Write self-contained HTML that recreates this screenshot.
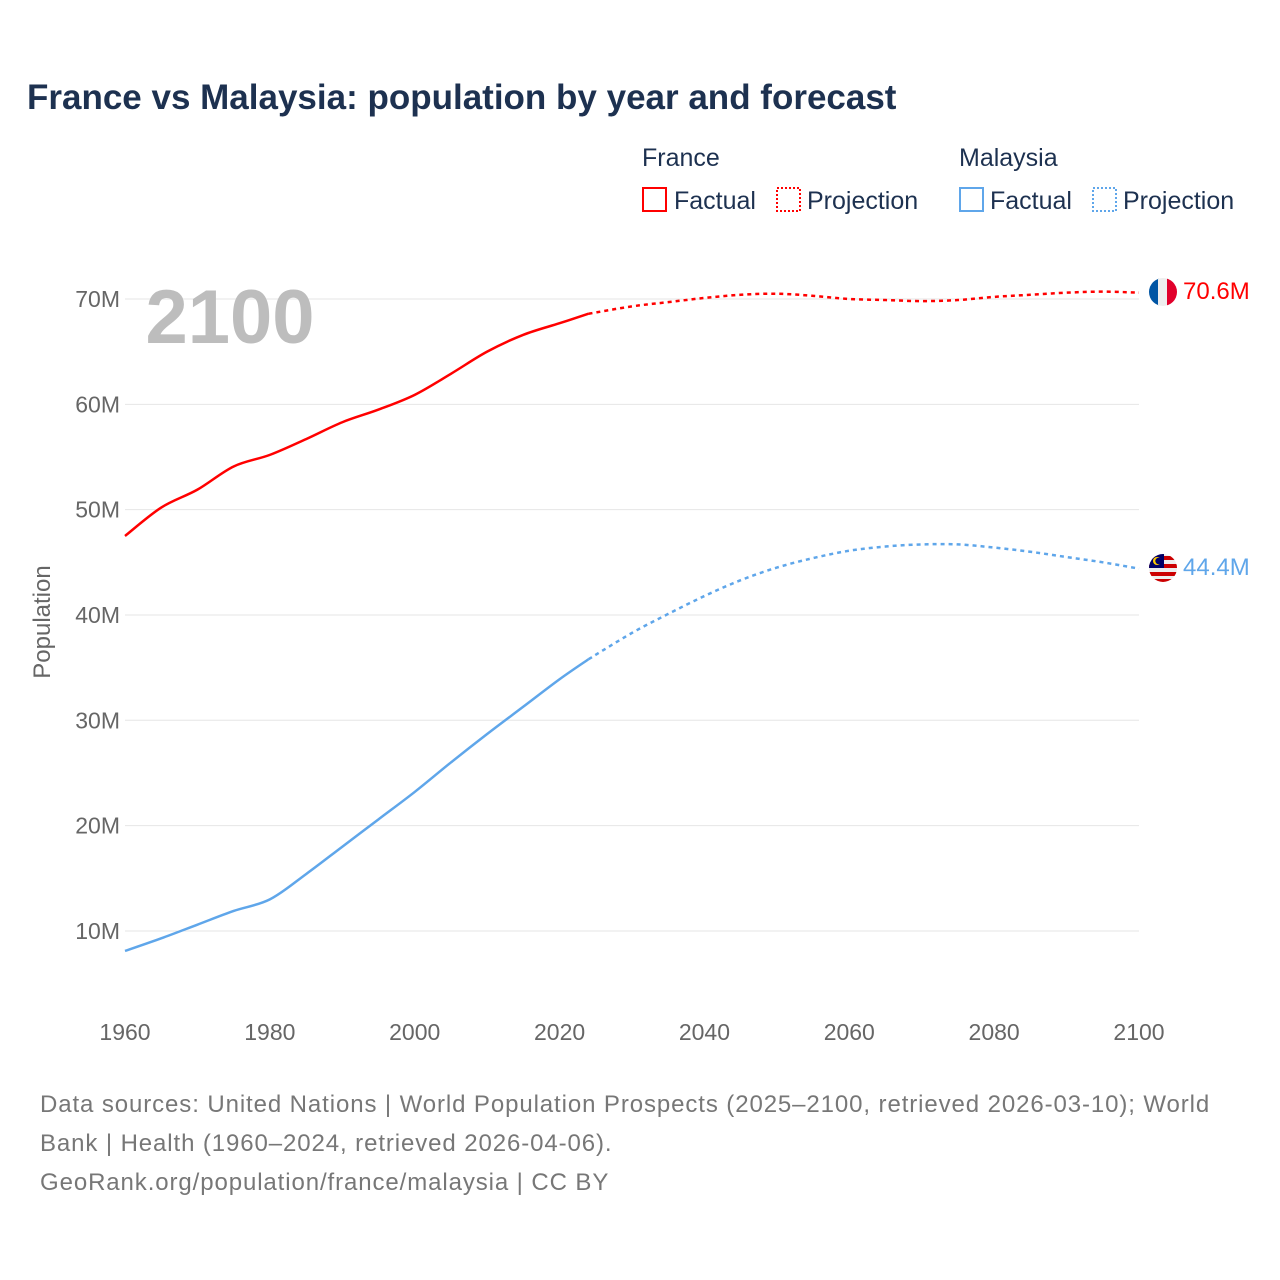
<!DOCTYPE html>
<html><head><meta charset="utf-8"><style>
body{margin:0;background:#fff;font-family:"Liberation Sans",sans-serif;}
#wrap{position:relative;width:1280px;height:1280px;overflow:hidden;}
</style></head><body>
<div id="wrap">
<svg id="svg" width="1280" height="1280" xmlns="http://www.w3.org/2000/svg" font-family="Liberation Sans, sans-serif">
<text x="27" y="109" font-size="35" font-weight="bold" fill="#1d3150">France vs Malaysia: population by year and forecast</text>
<g font-size="25" fill="#1d3150">
<text x="642" y="166">France</text>
<rect x="643" y="188" width="23" height="23" fill="none" stroke="#f00" stroke-width="2"/>
<text x="674" y="209">Factual</text>
<rect x="777" y="188" width="23" height="23" fill="none" stroke="#f00" stroke-width="2" stroke-dasharray="2,2"/>
<text x="807" y="209">Projection</text>
<text x="959" y="166">Malaysia</text>
<rect x="960" y="188" width="23" height="23" fill="none" stroke="#5fa6ea" stroke-width="2"/>
<text x="990" y="209">Factual</text>
<rect x="1093" y="188" width="23" height="23" fill="none" stroke="#5fa6ea" stroke-width="2" stroke-dasharray="2,2"/>
<text x="1123" y="209">Projection</text>
</g>
<g id="grid"></g>
<g id="xt"></g>
<text x="230" y="343" font-size="76" font-weight="bold" fill="#bdbdbd" text-anchor="middle">2100</text>
<text transform="translate(50,622) rotate(-90)" font-size="24" fill="#666" text-anchor="middle">Population</text>
<g id="series"></g>
<g>
<clipPath id="cf"><circle cx="1163" cy="292" r="14"/></clipPath>
<g clip-path="url(#cf)"><rect x="1149" y="278" width="10" height="28" fill="#0055a4"/><rect x="1158" y="278" width="10" height="28" fill="#eee"/><rect x="1167" y="278" width="10" height="28" fill="#e1002b"/></g>
</g>
<g>
<clipPath id="cm"><circle cx="1163" cy="568" r="14"/></clipPath>
<g clip-path="url(#cm)"><rect x="1149" y="554" width="28" height="28" fill="#eee"/>
<rect x="1149" y="556" width="28" height="4" fill="#cc0001"/><rect x="1149" y="564" width="28" height="4" fill="#cc0001"/><rect x="1149" y="572" width="28" height="4" fill="#cc0001"/><rect x="1149" y="579" width="28" height="4" fill="#cc0001"/>
<rect x="1149" y="554" width="15" height="14" fill="#010066"/><circle cx="1157" cy="561" r="4" fill="#fc0"/><circle cx="1158.5" cy="561" r="3.2" fill="#010066"/></g>
</g>
<text x="1183" y="299" font-size="24" fill="#f00">70.6M</text>
<text x="1183" y="575" font-size="24" fill="#5fa6ea">44.4M</text>
<g font-size="24" fill="#777" letter-spacing="0.9">
<text x="40" y="1112">Data sources: United Nations | World Population Prospects (2025–2100, retrieved 2026-03-10); World</text>
<text x="40" y="1151">Bank | Health (1960–2024, retrieved 2026-04-06).</text>
<text x="40" y="1190">GeoRank.org/population/france/malaysia | CC BY</text>
</g>
</svg>
</div>
<script>
const years=[1960,1965,1970,1975,1980,1985,1990,1995,2000,2005,2010,2015,2020,2024];
const franceFact=[47.5,50.2,51.9,54.1,55.2,56.7,58.3,59.5,60.9,62.9,65.0,66.6,67.7,68.6];
const malaysiaFact=[8.1,9.3,10.6,11.9,13.0,15.4,18.0,20.6,23.2,26.0,28.7,31.3,33.9,35.8];
const projYears=[2024,2030,2035,2040,2045,2050,2055,2060,2065,2070,2075,2080,2085,2090,2095,2100];
const franceProj=[68.6,69.3,69.7,70.1,70.4,70.5,70.3,70.0,69.9,69.8,69.9,70.2,70.4,70.6,70.7,70.6];
const malaysiaProj=[35.8,38.3,40.1,41.8,43.3,44.5,45.4,46.1,46.5,46.7,46.7,46.4,46.0,45.5,45.0,44.4];
const yTicks=[10,20,30,40,50,60,70];
const xTicks=[1960,1980,2000,2020,2040,2060,2080,2100];
const NS="http://www.w3.org/2000/svg";
const X=y=>125+(y-1960)*(1139-125)/140;
const Y=v=>1036.3-v*10.533;
function mk(t,a,p){const e=document.createElementNS(NS,t);for(const k in a)e.setAttribute(k,a[k]);p.appendChild(e);return e;}
const grid=document.getElementById('grid');
yTicks.forEach(v=>{
 const l=mk('line',{x1:125,x2:1139,y1:Y(v),y2:Y(v),stroke:'#e6e6e6','stroke-width':1},grid);
 
 
 const t=mk('text',{x:120,y:Y(v)+8,'font-size':23,fill:'#666','text-anchor':'end'},grid);
 t.textContent=v+'M';
 
 
});
const xt=document.getElementById('xt');
xTicks.forEach(v=>{
 const t=mk('text',{x:X(v),y:1040,'font-size':23,fill:'#666','text-anchor':'middle'},xt);
 t.textContent=v;
 
 
});
function path(xs,vs){let d='';const p=xs.map((x,i)=>[X(x),Y(vs[i])]);
 d='M'+p[0][0]+','+p[0][1];
 for(let i=0;i<p.length-1;i++){const p0=p[i-1]||p[i],p1=p[i],p2=p[i+1],p3=p[i+2]||p2;
  d+=' C'+(p1[0]+(p2[0]-p0[0])/6)+','+(p1[1]+(p2[1]-p0[1])/6)+' '+(p2[0]-(p3[0]-p1[0])/6)+','+(p2[1]-(p3[1]-p1[1])/6)+' '+p2[0]+','+p2[1];}
 return d;}
const s=document.getElementById('series');
const a=mk('path',{d:path(years,franceFact),fill:'none',stroke:'#f00','stroke-width':2.5},s);


const b=mk('path',{d:path(projYears,franceProj),fill:'none',stroke:'#f00','stroke-width':2.5,'stroke-dasharray':'4,4'},s);


const c=mk('path',{d:path(years,malaysiaFact),fill:'none',stroke:'#5fa6ea','stroke-width':2.5},s);


const d=mk('path',{d:path(projYears,malaysiaProj),fill:'none',stroke:'#5fa6ea','stroke-width':2.5,'stroke-dasharray':'4,4'},s);


</script>
</body></html>
